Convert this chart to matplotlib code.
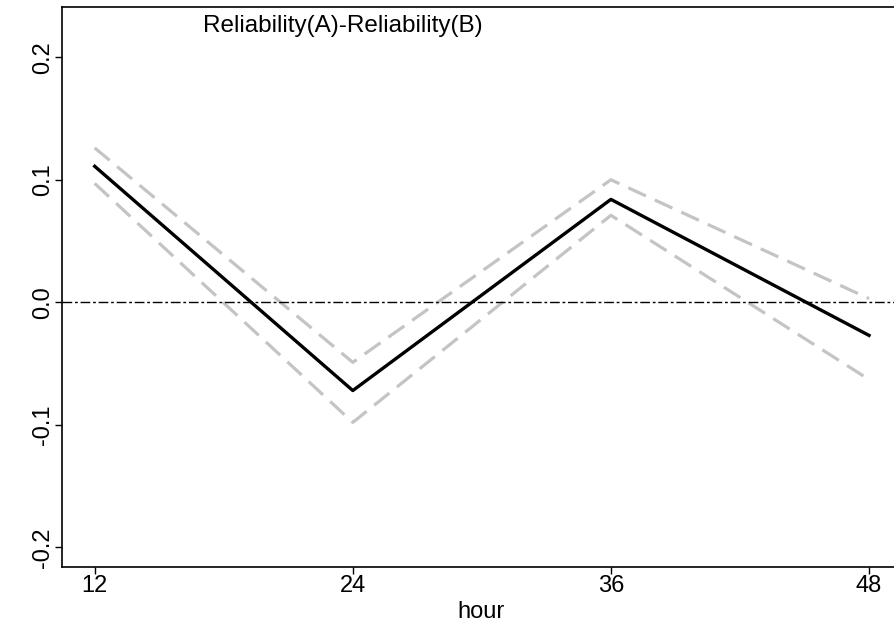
import matplotlib
matplotlib.use("Agg")
import matplotlib.pyplot as plt
from matplotlib import font_manager

hours = [12, 24, 36, 48]
diff = [0.111, -0.072, 0.084, -0.027]
upper = [0.126, -0.049, 0.100, 0.003]
lower = [0.097, -0.098, 0.071, -0.063]
xticks = [12, 24, 36, 48]
yticks = [-0.2, -0.1, 0.0, 0.1, 0.2]
ytick_labels = ["-0.2", "-0.1", "0.0", "0.1", "0.2"]
title = "Reliability(A)-Reliability(B)"
xlabel = "hour"

names = {f.name for f in font_manager.fontManager.ttflist}
fam = "Liberation Sans Narrow" if "Liberation Sans Narrow" in names else "Liberation Sans"
plt.rcParams['font.family'] = [fam, 'DejaVu Sans']
plt.rcParams['lines.scale_dashes'] = False

fig = plt.figure(figsize=(8.95, 6.32), dpi=100)
ax = fig.add_axes([62/895, 65/632, (900-62)/895, (567-7)/632])

ax.plot(hours, upper, color="#c4c4c4", lw=2.3, dashes=(14, 7))
ax.plot(hours, lower, color="#c4c4c4", lw=2.3, dashes=(14, 7))
ax.plot(hours, diff, color="black", lw=2.4)
ax.axhline(0, color="black", lw=1.0, dashes=(7, 2, 2, 2))

ax.set_xlim(10.48, 49.44)
ax.set_ylim(-0.216, 0.241)
ax.set_xticks(xticks)
ax.set_xticklabels([str(h) for h in xticks], fontsize=17)
ax.set_yticks(yticks)
ax.set_yticklabels(ytick_labels, fontsize=17, rotation=90, va="center")
ax.tick_params(direction="out", length=5, width=1, pad=1)
for s in ax.spines.values():
    s.set_linewidth(1.2)
ax.set_xlabel(xlabel, fontsize=17, labelpad=3)
ax.text(0.168, 0.985, title, transform=ax.transAxes, fontsize=17.5, ha="left", va="top")

fig.savefig("out.png", dpi=100)
